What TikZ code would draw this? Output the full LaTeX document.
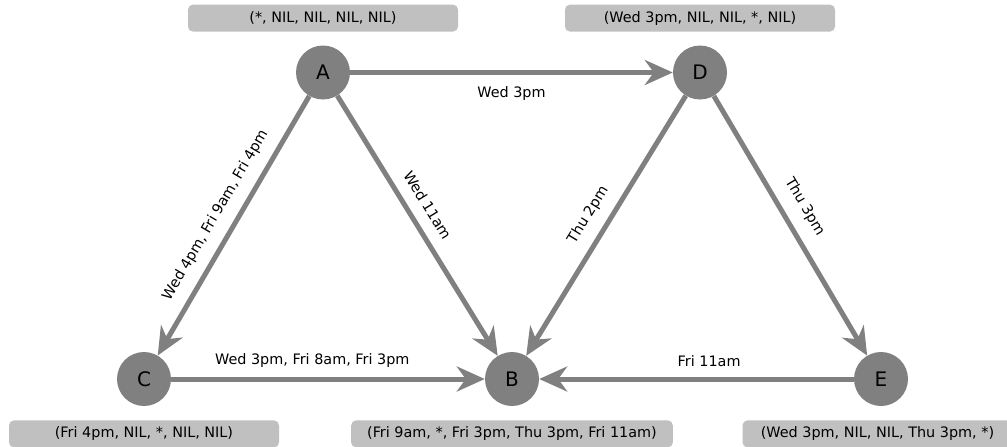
\documentclass[tikz,border=0pt]{standalone}
\usepackage{fontspec}
\setmainfont{DejaVu Sans}
\usetikzlibrary{arrows.meta,positioning}
\definecolor{stategray}{RGB}{128,128,128}
\definecolor{tuplegray}{RGB}{192,192,192}

\begin{document}
\begin{tikzpicture}[x=1pt,y=-1pt,
  state/.style={circle,fill=stategray,minimum size=54pt,inner sep=0pt,font=\fontsize{20}{24}\selectfont},
  tuple/.style={fill=tuplegray,rounded corners=5pt,minimum width=270pt,minimum height=27pt,inner xsep=16pt,font=\fontsize{14.4}{17}\selectfont},
  trans/.style={draw=stategray,line width=5pt,-{Stealth[length=28pt,width=25pt,inset=9pt]}},
  lbl/.style={font=\fontsize{14.4}{17}\selectfont}]
\useasboundingbox (0,0) rectangle (1007,447);
\node[state] (A) at (323,72.5) {A};
\node[state] (D) at (700,72.5) {D};
\node[state] (C) at (144,379) {C};
\node[state] (B) at (512,379) {B};
\node[state] (E) at (881,379) {E};
\node[tuple,above=13.5pt of A] (tA) {(*, NIL, NIL, NIL, NIL)};
\node[tuple,above=13.5pt of D] (tD) {(Wed 3pm, NIL, NIL, *, NIL)};
\node[tuple,below=14pt of C] (tC) {(Fri 4pm, NIL, *, NIL, NIL)};
\node[tuple,below=14pt of B] (tB) {(Fri 9am, *, Fri 3pm, Thu 3pm, Fri 11am)};
\node[tuple,below=14pt of E,xshift=-3.5pt] (tE) {(Wed 3pm, NIL, NIL, Thu 3pm, *)};
\draw[trans] (A) -- node[lbl,below=8pt] {Wed 3pm} (D);
\draw[trans] (A) -- node[lbl,pos=0.5,above=8pt,sloped] {Wed 4pm, Fri 9am, Fri 4pm} (C);
\draw[trans] (A) -- node[lbl,pos=0.46,above=8pt,sloped] {Wed 11am} (B);
\draw[trans] (D) -- node[lbl,pos=0.5,above=8pt,sloped] {Thu 2pm} (B);
\draw[trans] (D) -- node[lbl,pos=0.47,above=9pt,sloped] {Thu 3pm} (E);
\draw[trans] (C) -- node[lbl,pos=0.45,above=6pt] {Wed 3pm, Fri 8am, Fri 3pm} (B);
\draw[trans] (E) -- node[lbl,pos=0.46,above=6pt] {Fri 11am} (B);
\end{tikzpicture}
\end{document}
